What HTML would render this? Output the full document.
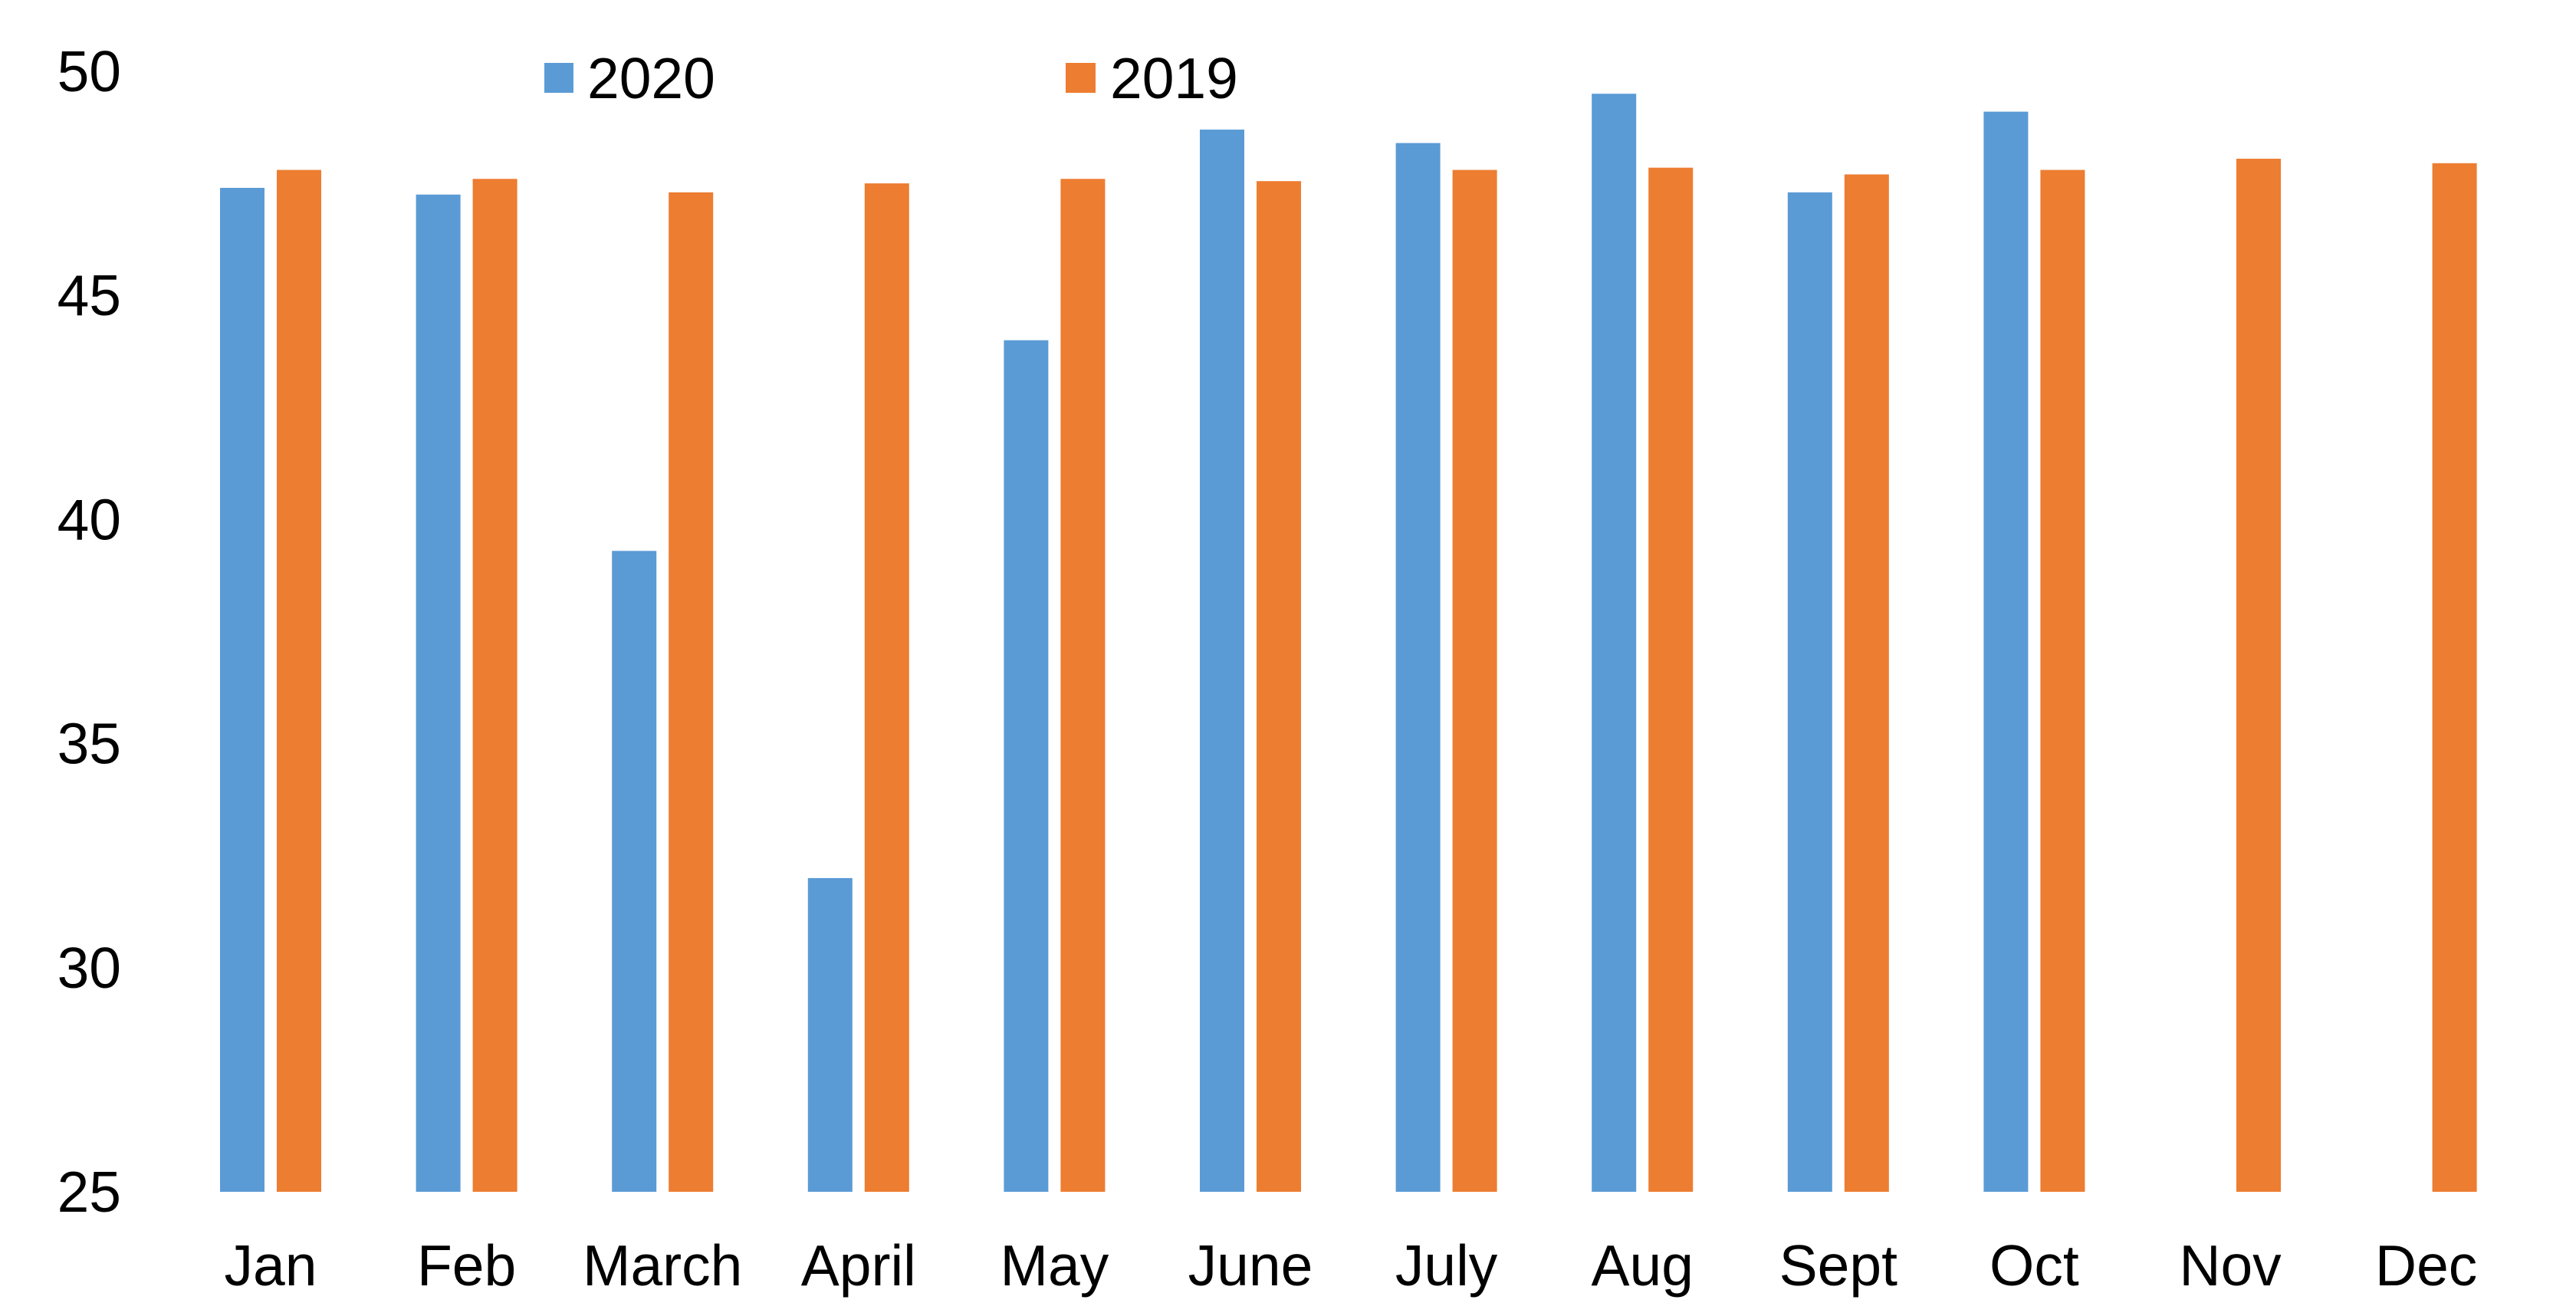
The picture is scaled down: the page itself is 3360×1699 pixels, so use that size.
<!DOCTYPE html>
<html><head><meta charset="utf-8"><style>
html,body{margin:0;padding:0;background:#fff;}
svg{display:block;font-family:"Liberation Sans",Arial,sans-serif;}
</style></head><body>
<svg id="chart" width="3360" height="1699" viewBox="0 0 3360 1699" xmlns="http://www.w3.org/2000/svg">
<g id="yaxis"></g>
<g id="xaxis"></g>
<g id="bars"></g>
<g>
  <g>
    <rect x="710" y="82" width="38" height="39" fill="#5B9BD5"/>
    <text x="766" y="102" font-size="75" dominant-baseline="central">2020</text>
  </g>
  <g>
    <rect x="1390" y="82" width="39" height="39" fill="#ED7D31"/>
    <text x="1448" y="102" font-size="75" dominant-baseline="central">2019</text>
  </g>
</g>
</svg>
<script>
const categories = ["Jan","Feb","March","April","May","June","July","Aug","Sept","Oct","Nov","Dec"];
const series2020 = [47.4,47.25,39.3,32.0,44.0,48.7,48.4,49.5,47.3,49.1,null,null];
const series2019 = [47.8,47.6,47.3,47.5,47.6,47.55,47.8,47.85,47.7,47.8,48.05,47.95];
const yTicks = [25,30,35,40,45,50];

const NS="http://www.w3.org/2000/svg";
const yMin=25,yMax=50,yBase=1554,yTop=93;
function yScale(v){return yBase-(v-yMin)/(yMax-yMin)*(yBase-yTop);}
const x0=353,step=255.6;
function xScale(i){return x0+i*step;}

const yaxis=document.getElementById('yaxis');
yTicks.forEach(t=>{
  const el=document.createElementNS(NS,'text');
  
  
  el.setAttribute('x',158);el.setAttribute('y',yScale(t));
  el.setAttribute('text-anchor','end');el.setAttribute('dominant-baseline','central');
  el.setAttribute('font-size','75');el.textContent=t;
  yaxis.appendChild(el);
});
const xaxis=document.getElementById('xaxis');
categories.forEach((c,i)=>{
  const el=document.createElementNS(NS,'text');
  
  
  el.setAttribute('x',xScale(i));el.setAttribute('y',1650);
  el.setAttribute('text-anchor','middle');el.setAttribute('dominant-baseline','central');
  el.setAttribute('font-size','75');el.textContent=c;
  xaxis.appendChild(el);
});
const bars=document.getElementById('bars');
function bar(v,x,color,name){
  if(v==null)return;
  const r=document.createElementNS(NS,'rect');
  
  
  const y=yScale(v);
  r.setAttribute('x',x);r.setAttribute('y',y);
  r.setAttribute('width',58);r.setAttribute('height',yBase-y);
  r.setAttribute('fill',color);
  bars.appendChild(r);
}
categories.forEach((c,i)=>{
  bar(series2020[i],xScale(i)-66,'#5B9BD5','bar-2020-'+c.toLowerCase());
  bar(series2019[i],xScale(i)+8,'#ED7D31','bar-2019-'+c.toLowerCase());
});
</script>
</body></html>
